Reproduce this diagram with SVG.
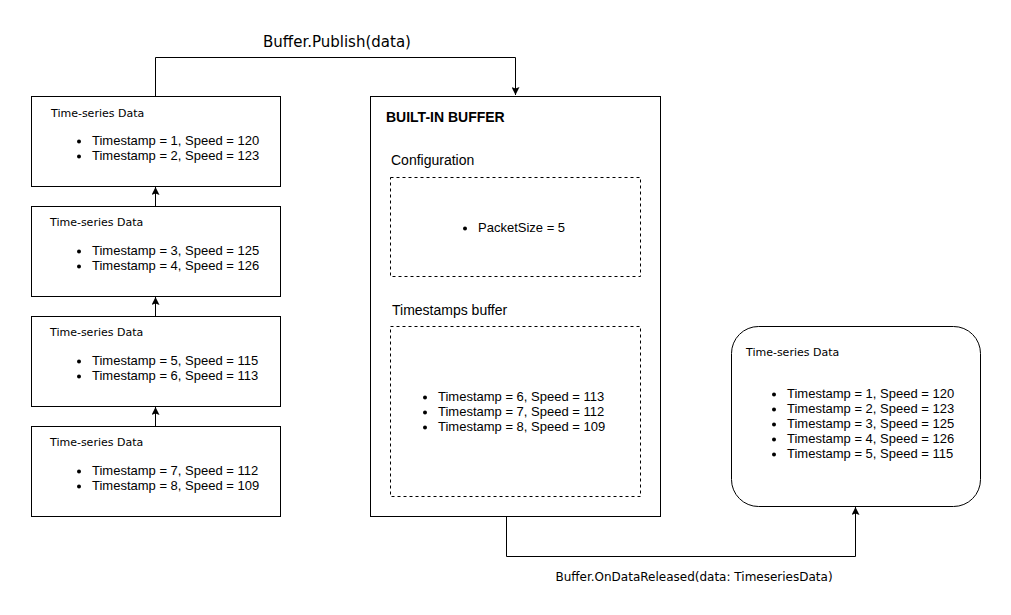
<svg xmlns="http://www.w3.org/2000/svg" width="1011" height="615" viewBox="0 0 1011 615">
<style>
.box{fill:#fff;stroke:#000;stroke-width:1}
.dash{fill:none;stroke:#000;stroke-width:1;stroke-dasharray:3,3}
.t{font-family:"DejaVu Sans",sans-serif;font-size:11px;fill:#000}
.i{font-family:"Liberation Sans",Arial,sans-serif;font-size:13px;fill:#000}
.s{font-family:"Liberation Sans",Arial,sans-serif;font-size:14px;fill:#000}
.h{font-family:"Liberation Sans",Arial,sans-serif;font-size:14px;font-weight:bold;fill:#000}
.lbl{font-family:"DejaVu Sans",sans-serif;fill:#000}
.c{fill:none;stroke:#000;stroke-width:1}
</style>
<defs>
<marker id="ah" viewBox="0 0 10 10" refX="10" refY="5" markerWidth="8" markerHeight="8" markerUnits="userSpaceOnUse" orient="auto">
<path d="M0,0 L10,5 L0,10 L2,5 Z" fill="#000"/>
</marker>
</defs>
<rect width="1011" height="615" fill="#fff"/>
<g id="connectors">
<path class="c" d="M155.5,96 V57.5 H515.5 V95" marker-end="url(#ah)"/>
<path class="c" d="M155.5,206 V187" marker-end="url(#ah)"/>
<path class="c" d="M155.5,316 V297" marker-end="url(#ah)"/>
<path class="c" d="M155.5,426 V407" marker-end="url(#ah)"/>
<path class="c" d="M506.5,516 V556.5 H855.5 V507" marker-end="url(#ah)"/>
<text class="lbl" x="337" y="47" font-size="15" text-anchor="middle">Buffer.Publish(data)</text>
<text class="lbl" x="694" y="581" font-size="12" text-anchor="middle">Buffer.OnDataReleased(data: TimeseriesData)</text>
</g>
<g id="ts1">
<rect class="box" x="31.5" y="96.5" width="249" height="90"/>
<text class="t" x="51" y="117">Time-series Data</text>
<circle cx="79" cy="141.5" r="2"/><text class="i" x="92" y="145">Timestamp = 1, Speed = 120</text>
<circle cx="79" cy="156.5" r="2"/><text class="i" x="92" y="160">Timestamp = 2, Speed = 123</text>
</g>
<g id="ts2">
<rect class="box" x="31.5" y="206.5" width="249" height="90"/>
<text class="t" x="50" y="226">Time-series Data</text>
<circle cx="79" cy="251.5" r="2"/><text class="i" x="92" y="255">Timestamp = 3, Speed = 125</text>
<circle cx="79" cy="266.5" r="2"/><text class="i" x="92" y="270">Timestamp = 4, Speed = 126</text>
</g>
<g id="ts3">
<rect class="box" x="31.5" y="316.5" width="249" height="90"/>
<text class="t" x="50" y="336">Time-series Data</text>
<circle cx="79" cy="361.5" r="2"/><text class="i" x="92" y="365">Timestamp = 5, Speed = 115</text>
<circle cx="79" cy="376.5" r="2"/><text class="i" x="92" y="380">Timestamp = 6, Speed = 113</text>
</g>
<g id="ts4">
<rect class="box" x="31.5" y="426.5" width="249" height="90"/>
<text class="t" x="50" y="446">Time-series Data</text>
<circle cx="79" cy="471.5" r="2"/><text class="i" x="92" y="475">Timestamp = 7, Speed = 112</text>
<circle cx="79" cy="486.5" r="2"/><text class="i" x="92" y="490">Timestamp = 8, Speed = 109</text>
</g>
<g id="buffer">
<rect class="box" x="370.5" y="96.5" width="290" height="420"/>
<text class="h" x="386" y="122">BUILT-IN BUFFER</text>
<text class="s" x="391" y="165">Configuration</text>
<rect class="dash" x="390.5" y="177.5" width="250" height="99"/>
<circle cx="465" cy="228.5" r="2"/><text class="i" x="478" y="232">PacketSize = 5</text>
<text class="s" x="392" y="315">Timestamps buffer</text>
<rect class="dash" x="390.5" y="326.5" width="250" height="170"/>
<circle cx="425" cy="397.5" r="2"/><text class="i" x="438" y="401">Timestamp = 6, Speed = 113</text>
<circle cx="425" cy="412.5" r="2"/><text class="i" x="438" y="416">Timestamp = 7, Speed = 112</text>
<circle cx="425" cy="427.5" r="2"/><text class="i" x="438" y="431">Timestamp = 8, Speed = 109</text>
</g>
<g id="released">
<rect class="box" x="731.5" y="326.5" width="249" height="180" rx="27" ry="27"/>
<text class="t" x="746" y="356">Time-series Data</text>
<circle cx="774" cy="394.5" r="2"/><text class="i" x="787" y="398">Timestamp = 1, Speed = 120</text>
<circle cx="774" cy="409.5" r="2"/><text class="i" x="787" y="413">Timestamp = 2, Speed = 123</text>
<circle cx="774" cy="424.5" r="2"/><text class="i" x="787" y="428">Timestamp = 3, Speed = 125</text>
<circle cx="774" cy="439.5" r="2"/><text class="i" x="787" y="443">Timestamp = 4, Speed = 126</text>
<circle cx="774" cy="454.5" r="2"/><text class="i" x="787" y="458">Timestamp = 5, Speed = 115</text>
</g>
</svg>
